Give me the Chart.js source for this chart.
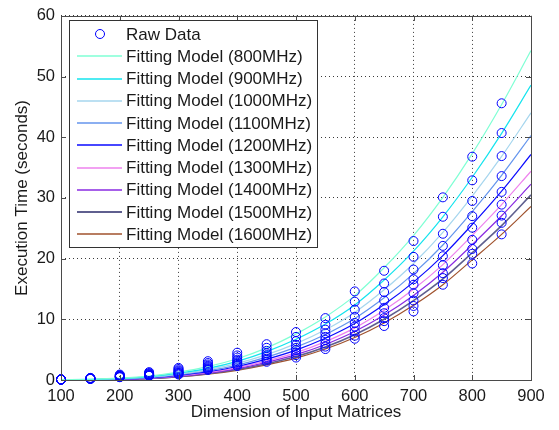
<!DOCTYPE html>
<html>
<head>
<meta charset="utf-8">
<script src="https://cdn.jsdelivr.net/npm/chart.js@4/dist/chart.umd.min.js"></script>
<style>
  html, body { margin: 0; padding: 0; background: #fff; }
  #wrap { width: 559px; height: 430px; }
</style>
</head>
<body>
<div id="wrap"><canvas id="c" width="559" height="430"></canvas></div>
<script>
// Matrix dimensions that were measured, and where the fitted curves are sampled
const matrixSizes = [100, 150, 200, 250, 300, 350, 400, 450, 500, 550, 600, 650, 700, 750, 800, 850];
const fitSizes = [100, 150, 200, 250, 300, 350, 400, 450, 500, 550, 600, 650, 700, 750, 800, 850, 900];
const frequencyLabels = ['800MHz', '900MHz', '1000MHz', '1100MHz', '1200MHz', '1300MHz', '1400MHz', '1500MHz', '1600MHz'];
const xTicks = [100, 200, 300, 400, 500, 600, 700, 800, 900];
const yTicks = [0, 10, 20, 30, 40, 50, 60];

// Measured execution times (seconds), one array per CPU frequency
const raw800  = [0.12, 0.35, 0.90, 1.30, 2.00, 3.10, 4.50, 5.90, 7.90, 10.2, 14.6, 18.0, 22.9, 30.1, 36.8, 45.6];
const raw900  = [0.10, 0.31, 0.80, 1.15, 1.80, 2.80, 4.05, 5.30, 7.10, 9.1, 12.9, 15.9, 20.3, 26.9, 32.9, 40.7];
const raw1000 = [0.09, 0.28, 0.72, 1.05, 1.60, 2.55, 3.70, 4.80, 6.40, 8.3, 11.6, 14.5, 18.2, 24.1, 29.5, 36.9];
const raw1100 = [0.08, 0.26, 0.66, 0.95, 1.45, 2.35, 3.35, 4.40, 5.80, 7.7, 10.4, 13.1, 16.6, 22.1, 27.0, 33.6];
const raw1200 = [0.08, 0.24, 0.60, 0.88, 1.30, 2.20, 3.10, 4.10, 5.30, 7.1, 9.4, 11.9, 15.7, 20.4, 25.1, 31.0];
const raw1300 = [0.07, 0.22, 0.56, 0.82, 1.20, 2.05, 2.85, 3.80, 4.90, 6.6, 8.8, 11.0, 14.3, 18.9, 23.1, 28.9];
const raw1400 = [0.07, 0.21, 0.52, 0.76, 1.10, 1.90, 2.65, 3.50, 4.50, 6.0, 8.0, 10.2, 13.1, 17.6, 21.6, 27.1];
const raw1500 = [0.06, 0.20, 0.49, 0.72, 1.00, 1.80, 2.50, 3.30, 4.10, 5.5, 7.3, 9.7, 12.2, 16.8, 20.8, 25.9];
const raw1600 = [0.06, 0.19, 0.46, 0.68, 0.90, 1.65, 2.30, 3.00, 3.70, 5.1, 6.8, 8.9, 11.3, 15.7, 19.2, 24.0];

// Fitted model curves (seconds) sampled at fitSizes
const fit800  = [0.05, 0.12, 0.30, 0.65, 1.30, 2.20, 3.50, 5.30, 7.60, 10.4, 13.9, 18.5, 23.8, 30.1, 37.3, 45.4, 54.3];
const fit900  = [0.04, 0.10, 0.25, 0.55, 1.12, 1.92, 3.08, 4.68, 6.71, 9.22, 12.37, 16.48, 21.24, 26.90, 33.41, 40.64, 48.59];
const fit1000 = [0.03, 0.08, 0.21, 0.48, 0.98, 1.70, 2.74, 4.18, 6.00, 8.28, 11.14, 14.86, 19.20, 24.34, 30.30, 36.84, 44.02];
const fit1100 = [0.02, 0.07, 0.18, 0.42, 0.86, 1.52, 2.46, 3.77, 5.42, 7.51, 10.14, 13.54, 17.53, 22.25, 27.76, 33.73, 40.28];
const fit1200 = [0.02, 0.05, 0.15, 0.36, 0.77, 1.37, 2.23, 3.43, 4.93, 6.87, 9.30, 12.43, 16.13, 20.50, 25.63, 31.13, 37.17];
const fit1300 = [0.01, 0.04, 0.13, 0.32, 0.69, 1.24, 2.04, 3.15, 4.52, 6.32, 8.59, 11.50, 14.95, 19.02, 23.84, 28.90, 34.40];
const fit1400 = [0.01, 0.03, 0.11, 0.28, 0.61, 1.13, 1.87, 2.90, 4.17, 5.86, 7.99, 10.70, 13.94, 17.76, 22.30, 27.06, 32.27];
const fit1500 = [0.00, 0.03, 0.10, 0.25, 0.55, 1.03, 1.73, 2.69, 3.87, 5.45, 7.46, 10.01, 13.07, 16.66, 20.97, 25.43, 30.50];
const fit1600 = [0.00, 0.02, 0.08, 0.22, 0.50, 0.95, 1.60, 2.50, 3.60, 5.10, 7.00, 9.40, 12.30, 15.70, 19.80, 24.00, 28.60];

const rawSeries = [raw800, raw900, raw1000, raw1100, raw1200, raw1300, raw1400, raw1500, raw1600];
const fitSeries = [fit800, fit900, fit1000, fit1100, fit1200, fit1300, fit1400, fit1500, fit1600];
const curveColors = ['#7fffd4', '#14e4ee', '#a6d6ee', '#6495ed', '#0a0aff', '#ee82ee', '#8a2be2', '#5f5f8f', '#a0522d'];
const curveWidths = [1.2, 1.2, 1.2, 1.2, 1.2, 1.2, 1.2, 1.6, 1.2];
const markerColor = '#0000ff';

const FONT = 'Liberation Sans, Arial, Helvetica, sans-serif';
const TEXT = '#1a1a1a';
const AXIS = '#4a4a4a';

const rawPoints = [];
rawSeries.forEach(series => {
  series.forEach((t, i) => rawPoints.push({ x: matrixSizes[i], y: t }));
});

const datasets = [{
  label: 'Raw Data',
  data: rawPoints,
  showLine: false,
  pointStyle: 'circle',
  pointRadius: 4.5,
  pointBorderWidth: 1,
  pointBorderColor: markerColor,
  pointBackgroundColor: 'rgba(0,0,0,0)',
  clip: false,
  order: 0
}];
fitSeries.forEach((series, k) => {
  datasets.push({
    label: 'Fitting Model (' + frequencyLabels[k] + ')',
    data: series.map((t, i) => ({ x: fitSizes[i], y: t })),
    showLine: true,
    borderColor: curveColors[k],
    borderWidth: curveWidths[k],
    pointRadius: 0,
    cubicInterpolationMode: 'monotone',
    fill: false,
    order: 1
  });
});

// Axis box with inward tick marks on all four sides
const frame = {
  id: 'frame',
  afterDatasetsDraw(chart) {
    const { ctx, chartArea: a, scales } = chart;
    ctx.save();
    ctx.setLineDash([]);
    ctx.strokeStyle = AXIS;
    ctx.lineWidth = 1;
    ctx.beginPath();
    xTicks.forEach(v => {
      const px = Math.round(scales.x.getPixelForValue(v)) + 0.5;
      ctx.moveTo(px, a.bottom); ctx.lineTo(px, a.bottom - 5);
      ctx.moveTo(px, a.top); ctx.lineTo(px, a.top + 5);
    });
    yTicks.forEach(v => {
      const py = Math.round(scales.y.getPixelForValue(v)) + 0.5;
      ctx.moveTo(a.left, py); ctx.lineTo(a.left + 5, py);
      ctx.moveTo(a.right, py); ctx.lineTo(a.right - 5, py);
    });
    ctx.stroke();
    ctx.strokeRect(Math.round(a.left) + 0.5, Math.round(a.top) + 0.5,
                   Math.round(a.right - a.left), Math.round(a.bottom - a.top));
    ctx.restore();
  }
};

// Boxed legend in the upper-left corner of the plot
const boxLegend = {
  id: 'boxLegend',
  afterDraw(chart) {
    const ctx = chart.ctx;
    const bx = 69, by = 20, bw = 248, bh = 227;
    const rowH = 22.25, firstRow = 34;
    ctx.save();
    ctx.setLineDash([]);
    ctx.fillStyle = '#fff';
    ctx.fillRect(bx, by, bw, bh);
    ctx.strokeStyle = '#333';
    ctx.lineWidth = 1;
    ctx.strokeRect(bx + 0.5, by + 0.5, bw, bh);
    ctx.font = '17px ' + FONT;
    ctx.textBaseline = 'middle';
    ctx.textAlign = 'left';
    chart.data.datasets.forEach((ds, i) => {
      const y = firstRow + i * rowH;
      if (i === 0) {
        ctx.strokeStyle = markerColor;
        ctx.lineWidth = 1;
        ctx.beginPath();
        ctx.arc(100, y, 4.5, 0, Math.PI * 2);
        ctx.stroke();
      } else {
        ctx.strokeStyle = curveColors[i - 1];
        ctx.lineWidth = curveWidths[i - 1] + 0.3;
        ctx.beginPath();
        ctx.moveTo(77, Math.round(y));
        ctx.lineTo(122, Math.round(y));
        ctx.stroke();
      }
      ctx.fillStyle = TEXT;
      ctx.fillText(ds.label, 126, y + 1);
    });
    ctx.restore();
  }
};

new Chart(document.getElementById('c'), {
  type: 'scatter',
  data: { datasets },
  plugins: [frame, boxLegend],
  options: {
    responsive: false,
    devicePixelRatio: 1,
    animation: false,
    layout: { padding: { top: 12, right: 28, left: 0, bottom: 0 } },
    plugins: { legend: { display: false }, tooltip: { enabled: false } },
    scales: {
      x: {
        type: 'linear',
        min: 100, max: 900,
        afterFit: s => { s.height = 50; },
        afterBuildTicks: s => { s.ticks = xTicks.map(v => ({ value: v })); },
        ticks: { stepSize: 100, color: TEXT, padding: 7, font: { family: FONT, size: 16.5 }, maxRotation: 0 },
        grid: { color: '#3a3a3a', lineWidth: 1, drawTicks: false },
        border: { display: false, dash: [1, 3] },
        title: { display: true, text: 'Dimension of Input Matrices', color: TEXT,
                 font: { family: FONT, size: 17 }, padding: { top: 0, bottom: 7 } }
      },
      y: {
        type: 'linear',
        min: 0, max: 60,
        afterFit: s => { s.width = 61; },
        afterBuildTicks: s => { s.ticks = yTicks.map(v => ({ value: v })); },
        ticks: { stepSize: 10, color: TEXT, padding: 6, font: { family: FONT, size: 16.5 } },
        grid: { color: '#3a3a3a', lineWidth: 1, drawTicks: false },
        border: { display: false, dash: [1, 3] },
        title: { display: true, text: 'Execution Time (seconds)', color: TEXT,
                 font: { family: FONT, size: 17 }, padding: { top: 12, bottom: 0 } }
      }
    }
  }
});
</script>
</body>
</html>
